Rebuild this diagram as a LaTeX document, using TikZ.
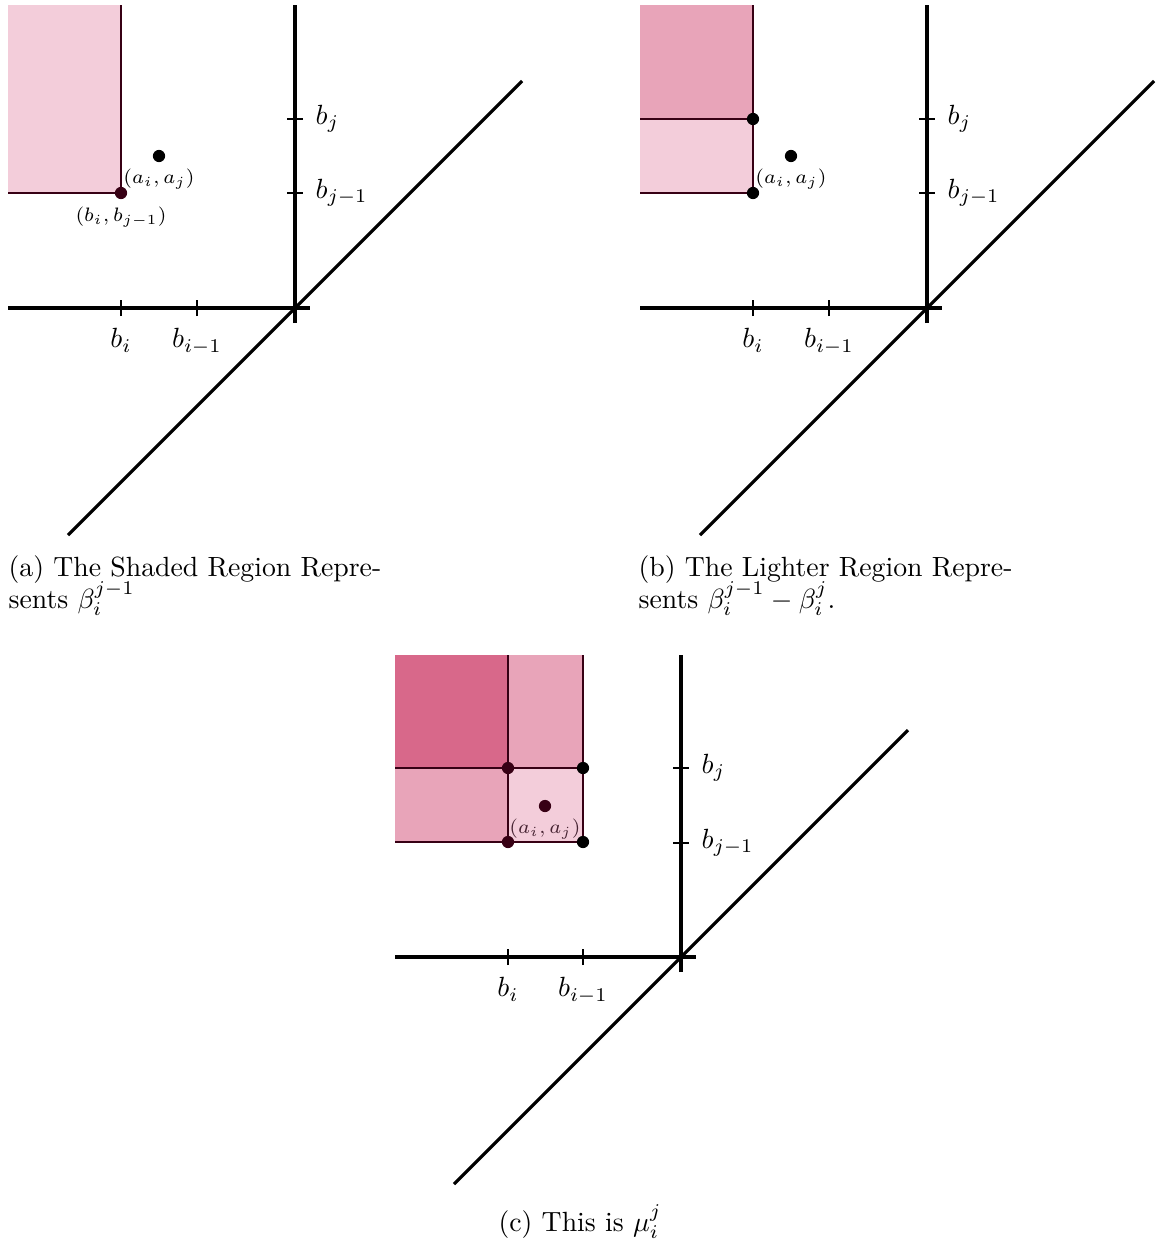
\documentclass[tikz,border=0pt]{standalone}
\usepackage{amsmath}
\usetikzlibrary{positioning}
\definecolor{shadeL}{RGB}{243,205,218}
\definecolor{shadeM}{RGB}{232,164,185}
\definecolor{shadeD}{RGB}{216,104,138}
\definecolor{edge}{RGB}{55,0,20}
\definecolor{dimtag}{RGB}{70,35,50}

\begin{document}
\begin{tikzpicture}[
    x=0.36pt,y=0.36pt,
    axis/.style={line width=1.15pt},
    tick/.style={line width=0.9pt},
    border/.style={draw=edge,line width=1pt},
    dot/.style={circle,fill=black,inner sep=0pt,minimum size=4.4pt},
    tag/.style={font=\scriptsize,inner sep=1pt},
    subcap/.style={anchor=base west,inner sep=0pt}
  ]
  \useasboundingbox (0,-1243) rectangle (1156,0);

  % Panel (a)
  \begin{scope}[shift={(295,-308)}]
    \fill[shadeL] (-287,115) rectangle (-174,303);
    \draw[border] (-287,115) -- (-174,115) -- (-174,303);
    \coordinate (aW) at (-287,0);  \coordinate (aE) at (15,0);
    \coordinate (aS) at (0,-15);   \coordinate (aN) at (0,303);
    \coordinate (aSW) at (-227,-227); \coordinate (aNE) at (227,227);
    \draw[axis] (aW) -- (aE);
    \draw[axis] (aS) -- (aN);
    \draw[axis] (aSW) -- (aNE);
    \draw[tick] (-174,-8) coordinate (atbi) -- (-174,8);
    \draw[tick] (-98,-8) coordinate (atbi1) -- (-98,8);
    \draw[tick] (-8,189) -- (8,189) coordinate (atbj);
    \draw[tick] (-8,115) -- (8,115) coordinate (atbj1);
    \node[below=1pt of atbi] (albi) {$b_i$};
    \node[below=1pt of atbi1] (albi1) {$b_{i-1}$};
    \node[right=1pt of atbj] (albj) {$b_j$};
    \node[right=1pt of atbj1] (albj1) {$b_{j-1}$};
    \node[dot,fill=edge] (acorner) at (-174,115) {};
    \node[tag,below=1.5pt of acorner] (acornerlbl) {$(b_i,b_{j-1})$};
    \node[dot] (apt) at (-136,152) {};
    \node[tag,below=1pt of apt] (aptlbl) {$(a_i,a_j)$};
  \end{scope}
  \node[subcap] (capa1) at (8,-576) {(a) The Shaded Region Repre-};
  \node[subcap] (capa2) at (8,-608) {sents $\beta_i^{j-1}$};

  % Panel (b)
  \begin{scope}[shift={(927,-308)}]
    \fill[shadeM] (-287,189) rectangle (-174,303);
    \fill[shadeL] (-287,115) rectangle (-174,189);
    \draw[border] (-287,115) -- (-174,115) -- (-174,303);
    \draw[border] (-287,189) -- (-174,189);
    \coordinate (bW) at (-287,0);  \coordinate (bE) at (15,0);
    \coordinate (bS) at (0,-15);   \coordinate (bN) at (0,303);
    \coordinate (bSW) at (-227,-227); \coordinate (bNE) at (227,227);
    \draw[axis] (bW) -- (bE);
    \draw[axis] (bS) -- (bN);
    \draw[axis] (bSW) -- (bNE);
    \draw[tick] (-174,-8) coordinate (btbi) -- (-174,8);
    \draw[tick] (-98,-8) coordinate (btbi1) -- (-98,8);
    \draw[tick] (-8,189) -- (8,189) coordinate (btbj);
    \draw[tick] (-8,115) -- (8,115) coordinate (btbj1);
    \node[below=1pt of btbi] (blbi) {$b_i$};
    \node[below=1pt of btbi1] (blbi1) {$b_{i-1}$};
    \node[right=1pt of btbj] (blbj) {$b_j$};
    \node[right=1pt of btbj1] (blbj1) {$b_{j-1}$};
    \node[dot] (bup) at (-174,189) {};
    \node[dot] (blow) at (-174,115) {};
    \node[dot] (bpt) at (-136,152) {};
    \node[tag,below=1pt of bpt] (bptlbl) {$(a_i,a_j)$};
  \end{scope}
  \node[subcap] (capb1) at (638,-576) {(b) The Lighter Region Repre-};
  \node[subcap] (capb2) at (638,-608) {sents $\beta_i^{j-1}-\beta_i^j$.};

  % Panel (c)
  \begin{scope}[shift={(681,-957)}]
    \fill[shadeD] (-286,189) rectangle (-173,302);
    \fill[shadeM] (-173,189) rectangle (-98,302);
    \fill[shadeM] (-286,115) rectangle (-173,189);
    \fill[shadeL] (-173,115) rectangle (-98,189);
    \draw[border] (-286,115) -- (-98,115) -- (-98,302);
    \draw[border] (-286,189) -- (-98,189);
    \draw[border] (-173,115) -- (-173,302);
    \coordinate (cW) at (-286,0);  \coordinate (cE) at (15,0);
    \coordinate (cS) at (0,-15);   \coordinate (cN) at (0,302);
    \coordinate (cSW) at (-227,-227); \coordinate (cNE) at (227,227);
    \draw[axis] (cW) -- (cE);
    \draw[axis] (cS) -- (cN);
    \draw[axis] (cSW) -- (cNE);
    \draw[tick] (-173,-8) coordinate (ctbi) -- (-173,8);
    \draw[tick] (-98,-8) coordinate (ctbi1) -- (-98,8);
    \draw[tick] (-8,189) -- (8,189) coordinate (ctbj);
    \draw[tick] (-8,114) -- (8,114) coordinate (ctbj1);
    \node[below=1pt of ctbi] (clbi) {$b_i$};
    \node[below=1pt of ctbi1] (clbi1) {$b_{i-1}$};
    \node[right=1pt of ctbj] (clbj) {$b_j$};
    \node[right=1pt of ctbj1] (clbj1) {$b_{j-1}$};
    \node[dot,fill=edge] (cul) at (-173,189) {};
    \node[dot] (cur) at (-98,189) {};
    \node[dot,fill=edge] (cll) at (-173,115) {};
    \node[dot] (clr) at (-98,115) {};
    \node[dot,fill=edge] (cpt) at (-136,151) {};
    \node[tag,text=dimtag,below=1pt of cpt] (cptlbl) {$(a_i,a_j)$};
  \end{scope}
  \node (capc) at (580,-1222) {(c) This is $\mu_i^j$};
\end{tikzpicture}
\end{document}
